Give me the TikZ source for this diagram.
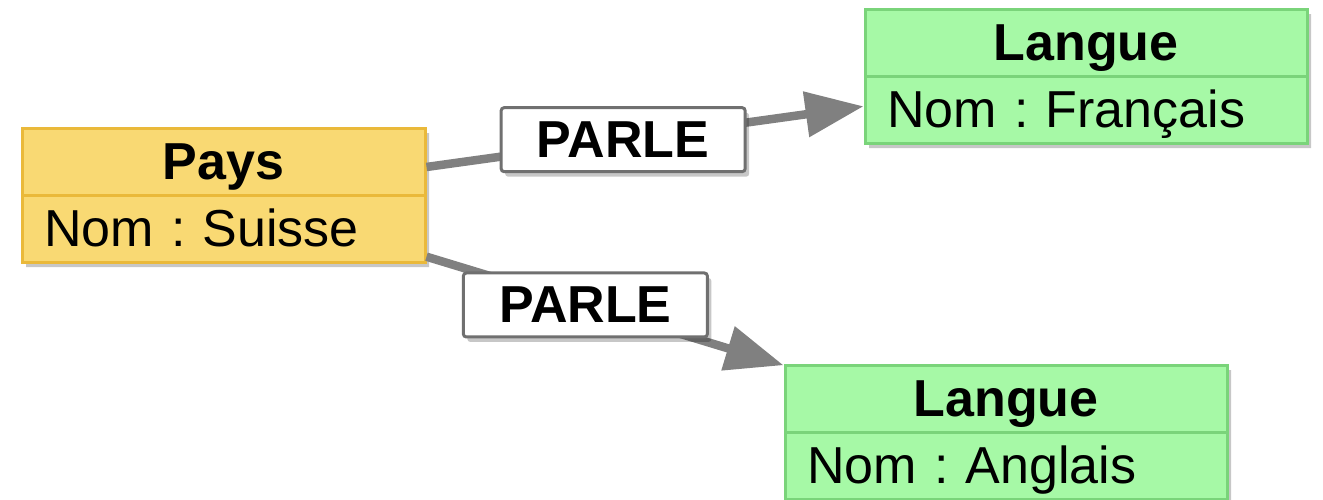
\documentclass[tikz,border=0pt]{standalone}
\usepackage{fontspec}
\setmainfont{Liberation Sans}
\usetikzlibrary{arrows.meta, shapes.multipart, shadows}
\frenchspacing

\definecolor{jaune}{RGB}{249,217,115}
\definecolor{jaunefonce}{RGB}{234,185,58}
\definecolor{vert}{RGB}{166,249,166}
\definecolor{vertfonce}{RGB}{122,212,122}
\definecolor{fleche}{RGB}{128,128,128}
\definecolor{bord}{RGB}{112,112,112}

% hauteur fixe de chaque ligne de texte
\newcommand{\haut}{\rule[-13pt]{0pt}{61pt}}

\begin{document}
\begin{tikzpicture}[x=1pt, y=-1pt,
    ombre/.style={drop shadow={shadow xshift=4pt, shadow yshift=-5pt, fill=black, opacity=0.22}},
    entite/.style={rectangle split, rectangle split parts=2, draw=#1fonce, fill=#1,
      line width=3pt, inner xsep=22pt, inner ysep=1.5pt, align=left,
      font=\fontsize{52}{60}\selectfont, ombre},
    relation/.style={draw=bord, fill=white, line width=3pt, rounded corners=3pt,
      minimum width=244pt, minimum height=64pt, inner sep=0pt,
      font=\fontsize{52}{60}\selectfont\bfseries, ombre},
    lien/.style={draw=fleche, line width=8.5pt, -{Triangle[length=58pt,width=44pt]}}]

  \useasboundingbox (0,0) rectangle (1323,499);

  \node[entite=jaune, text width=359pt] (pays) at (223.5,195)
    {{\centering\bfseries Pays\haut\par}\nodepart{two}Nom : Suisse\haut};

  \foreach \nom/\langue/\x/\y in {fr/Français/1086/76, en/Anglais/1006/432} {
    \node[entite=vert, text width=398pt] (\nom) at (\x,\y)
      {{\centering\bfseries Langue\haut\par}\nodepart{two}Nom : \langue\haut};
  }

  \draw[lien] (pays) -- node[relation, pos=0.45] (parlefr) {PARLE} (fr);
  \draw[lien] (pays) -- node[relation, pos=0.445] (parleen) {PARLE} (en);
\end{tikzpicture}
\end{document}
